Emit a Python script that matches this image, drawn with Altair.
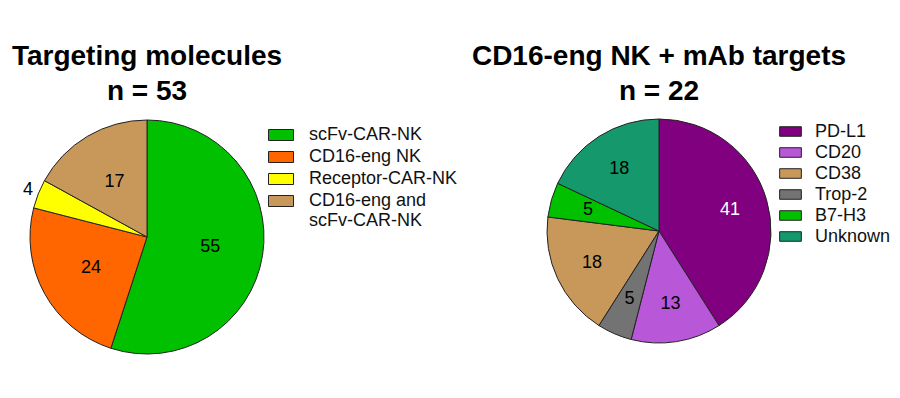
import altair as alt
import pandas as pd

# ---- data ----
left_title = ["Targeting molecules", "n = 53"]
left_cats = ["scFv-CAR-NK", "CD16-eng NK", "Receptor-CAR-NK", "CD16-eng and scFv-CAR-NK"]
left_vals = [55, 24, 4, 17]
left_colors = ["#00C000", "#FF6600", "#FFFF00", "#C8975A"]

right_title = ["CD16-eng NK + mAb targets", "n = 22"]
right_cats = ["PD-L1", "CD20", "CD38", "Trop-2", "B7-H3", "Unknown"]
right_vals = [41, 13, 18, 5, 5, 18]
right_pie_order = [0, 1, 3, 2, 4, 5]
right_colors = ["#800080", "#B857D8", "#C8975A", "#737373", "#00C000", "#15996C"]

FONT = "Liberation Sans"
left_df = pd.DataFrame({"cat": left_cats, "val": left_vals, "ord": list(range(len(left_cats)))})
right_df = pd.DataFrame({"cat": right_cats, "val": right_vals, "ord": right_pie_order})

LC = (139, 229, 117)
RC = (651, 223, 112)

def legend(x, y, pad, size, offset, expr=None):
    kw = dict(orient="none", legendX=x, legendY=y, title=None,
              symbolType="M-1,-0.44H1V0.44H-1Z", symbolSize=size,
              symbolStrokeColor="#222", symbolStrokeWidth=1,
              labelFont=FONT, labelFontSize=18, labelColor="#111",
              labelOffset=offset, rowPadding=pad, labelLimit=300)
    if expr:
        kw["labelExpr"] = expr
    return alt.Legend(**kw)

base_l = alt.Chart(left_df).encode(theta=alt.Theta("val:Q", stack=True), order=alt.Order("ord:Q"))
arc_l = base_l.mark_arc(x=LC[0], y=LC[1], radius=LC[2], stroke="#222", strokeWidth=1).encode(
    color=alt.Color("cat:N", scale=alt.Scale(domain=left_cats, range=left_colors),
                    legend=legend(260, 114, 0, 625, 15,
                                  "datum.label == 'CD16-eng and scFv-CAR-NK' ? ['CD16-eng and', 'scFv-CAR-NK'] : datum.label")))
txt_l_in = base_l.mark_text(x=LC[0], y=LC[1], radius=64, font=FONT, fontSize=18, color="black").encode(
    text=alt.condition(alt.datum.cat != "Receptor-CAR-NK", "val:Q", alt.value("")))
txt_l_out = base_l.mark_text(x=LC[0], y=LC[1], radius=128, font=FONT, fontSize=18, color="black").encode(
    text=alt.condition(alt.datum.cat == "Receptor-CAR-NK", "val:Q", alt.value("")))

base_r = alt.Chart(right_df).encode(theta=alt.Theta("val:Q", stack=True), order=alt.Order("ord:Q"))
arc_r = base_r.mark_arc(x=RC[0], y=RC[1], radius=RC[2], stroke="#222", strokeWidth=1).encode(
    color=alt.Color("cat:N", scale=alt.Scale(domain=right_cats, range=right_colors),
                    legend=legend(771, 112, -1, 471, 13)))
txt_r = base_r.mark_text(x=RC[0], y=RC[1], radius=74, font=FONT, fontSize=18).encode(
    text="val:Q",
    color=alt.condition(alt.datum.cat == "PD-L1", alt.value("white"), alt.value("black")))

one = pd.DataFrame({"a": [0]})
title_l = alt.Chart(one).mark_text(x=139, y=57, text=left_title, lineHeight=35, baseline="alphabetic",
                                   font=FONT, fontSize=28, fontWeight="bold", color="black").encode()
title_r = alt.Chart(one).mark_text(x=651, y=57, text=right_title, lineHeight=35, baseline="alphabetic",
                                   font=FONT, fontSize=28, fontWeight="bold", color="black").encode()

chart = alt.layer(arc_l, txt_l_in, txt_l_out, arc_r, txt_r, title_l, title_r).resolve_scale(
    color="independent"
).properties(width=884, height=382, autosize=alt.AutoSizeParams(type="none"), padding=0
).configure_view(stroke=None)

chart.save("out.html", embed_options={"renderer": "svg", "actions": False})
